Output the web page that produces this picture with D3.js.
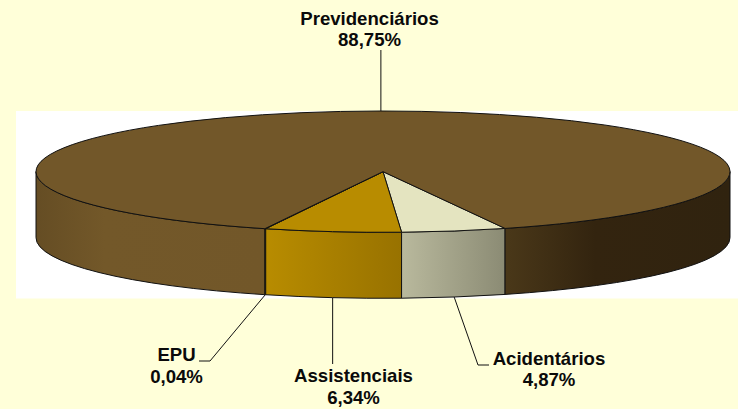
<!DOCTYPE html>
<html>
<head>
<meta charset="utf-8">
<script src="https://cdn.jsdelivr.net/npm/d3@7"></script>
<style>
  html, body { margin: 0; padding: 0; background: #ffffd9; }
  svg { display: block; }
  text { font-family: "Liberation Sans", Arial, sans-serif; font-weight: bold; font-size: 18.6px; fill: #0a0a0a; }
</style>
</head>
<body>
<svg id="chart" width="738" height="409"></svg>
<script>
const categories = ["Acidentários", "Assistenciais", "EPU", "Previdenciários"];
const shares = [4.87, 6.34, 0.04, 88.75];
const shareLabels = ["4,87%", "6,34%", "0,04%", "88,75%"];
const topColors = ["#e4e4c0", "#b88c00", "#b88c00", "#725729"];

const svg = d3.select("#chart");
const width = +svg.attr("width");
const height = +svg.attr("height");
const depth = 66;

svg.append("rect").attr("width", width).attr("height", height).attr("fill", "#ffffd9");
svg.append("rect").attr("x", 16).attr("y", 111).attr("width", width - 16).attr("height", 187.5).attr("fill", "#fff");

// the disc is a circle squashed by the two scales
const px = d3.scaleLinear().domain([-1, 1]).range([36, 730]);
const py = d3.scaleLinear().domain([-1, 1]).range([111, 232.3]);
const rx = (px(1) - px(-1)) / 2;
const ry = (py(1) - py(-1)) / 2;
const X = a => px(Math.sin(a));
const Y = a => py(-Math.cos(a));

const start = 159.4 * Math.PI / 180;
const slices = d3.pie().sort(null).startAngle(start).endAngle(start + 2 * Math.PI)(shares);

const arcTo = (a0, a1, dy = 0) =>
  `A${rx},${ry} 0 ${a1 - a0 > Math.PI ? 1 : 0} 1 ${X(a1)},${Y(a1) + dy}`;

const defs = svg.append("defs");
const makeGradient = (id, x1, x2, stops) => {
  const grad = defs.append("linearGradient")
    .attr("id", id)
    .attr("gradientUnits", "userSpaceOnUse")
    .attr("x1", x1).attr("y1", 0)
    .attr("x2", x2).attr("y2", 0);
  grad.selectAll("stop")
    .data(stops)
    .enter().append("stop")
    .attr("offset", d => d[0])
    .attr("stop-color", d => d[1]);
};

makeGradient("wall-acid", X(slices[0].startAngle), X(slices[0].endAngle), [[0, "#8b8b74"], [1, "#b9b99d"]]);
makeGradient("wall-assist", X(slices[1].endAngle), X(slices[1].startAngle), [[0, "#b88c00"], [1, "#987200"]]);
makeGradient("wall-prev-left", px(-1), X(slices[3].startAngle), [[0, "#654d24"], [0.3, "#735829"], [1, "#725729"]]);
makeGradient("wall-prev-right", X(slices[3].endAngle), px(1), [[0, "#4a3819"], [0.4, "#33240f"], [1, "#30230f"]]);

// front wall pieces, left to right
const t = Math.PI * 2;
const walls = [
  { a0: slices[3].startAngle, a1: 1.5 * Math.PI, fill: "url(#wall-prev-left)" },
  { a0: slices[2].startAngle, a1: slices[2].endAngle, fill: "#b88c00" },
  { a0: slices[1].startAngle, a1: slices[1].endAngle, fill: "url(#wall-assist)" },
  { a0: slices[0].startAngle, a1: slices[0].endAngle, fill: "url(#wall-acid)" },
  { a0: 0.5 * Math.PI, a1: slices[3].endAngle - t, fill: "url(#wall-prev-right)" }
];

svg.append("g")
  .selectAll("path")
  .data(walls)
  .enter().append("path")
  .attr("d", d => `M${X(d.a0)},${Y(d.a0)}${arcTo(d.a0, d.a1)}L${X(d.a1)},${Y(d.a1) + depth}` +
    `A${rx},${ry} 0 0 0 ${X(d.a0)},${Y(d.a0) + depth}Z`)
  .attr("fill", d => d.fill)
  .attr("stroke", "#111")
  .attr("stroke-width", 1);

svg.append("g")
  .selectAll("path")
  .data(slices)
  .enter().append("path")
  .attr("d", d => `M${px(0)},${py(0)}L${X(d.startAngle)},${Y(d.startAngle)}` +
    `${arcTo(d.startAngle, d.endAngle)}Z`)
  .attr("fill", (d, i) => topColors[i])
  .attr("stroke", "#111")
  .attr("stroke-width", 1);

// leader lines start at the middle of each slice
const mid = d => (d.startAngle + d.endAngle) / 2;
const anchor = i => {
  const a = mid(slices[i]);
  return [X(a), Y(a) + (Math.cos(a) < 0 ? depth : 0)];
};
const leaders = [
  [anchor(0), [478, 365], [489, 365]],
  [anchor(1), [anchor(1)[0], 364]],
  [anchor(2), [210, 361], [199, 361]],
  [anchor(3), [anchor(3)[0], 50]]
];
const line = d3.line();
svg.append("g")
  .selectAll("path")
  .data(leaders)
  .enter().append("path")
  .attr("d", d => line(d))
  .attr("fill", "none")
  .attr("stroke", "#111")
  .attr("stroke-width", 1);

const labelPos = [
  { x: 549, y: 365, dy: 21 },
  { x: 353.5, y: 381.5, dy: 22 },
  { x: 176.5, y: 360.5, dy: 22 },
  { x: 369.5, y: 25, dy: 21 }
];
const labels = svg.append("g")
  .selectAll("g")
  .data(categories)
  .enter().append("g");
labels.append("text")
  .attr("x", (d, i) => labelPos[i].x)
  .attr("y", (d, i) => labelPos[i].y)
  .attr("text-anchor", "middle")
  .text(d => d);
labels.append("text")
  .attr("x", (d, i) => labelPos[i].x)
  .attr("y", (d, i) => labelPos[i].y + labelPos[i].dy)
  .attr("text-anchor", "middle")
  .text((d, i) => shareLabels[i]);
</script>
</body>
</html>
